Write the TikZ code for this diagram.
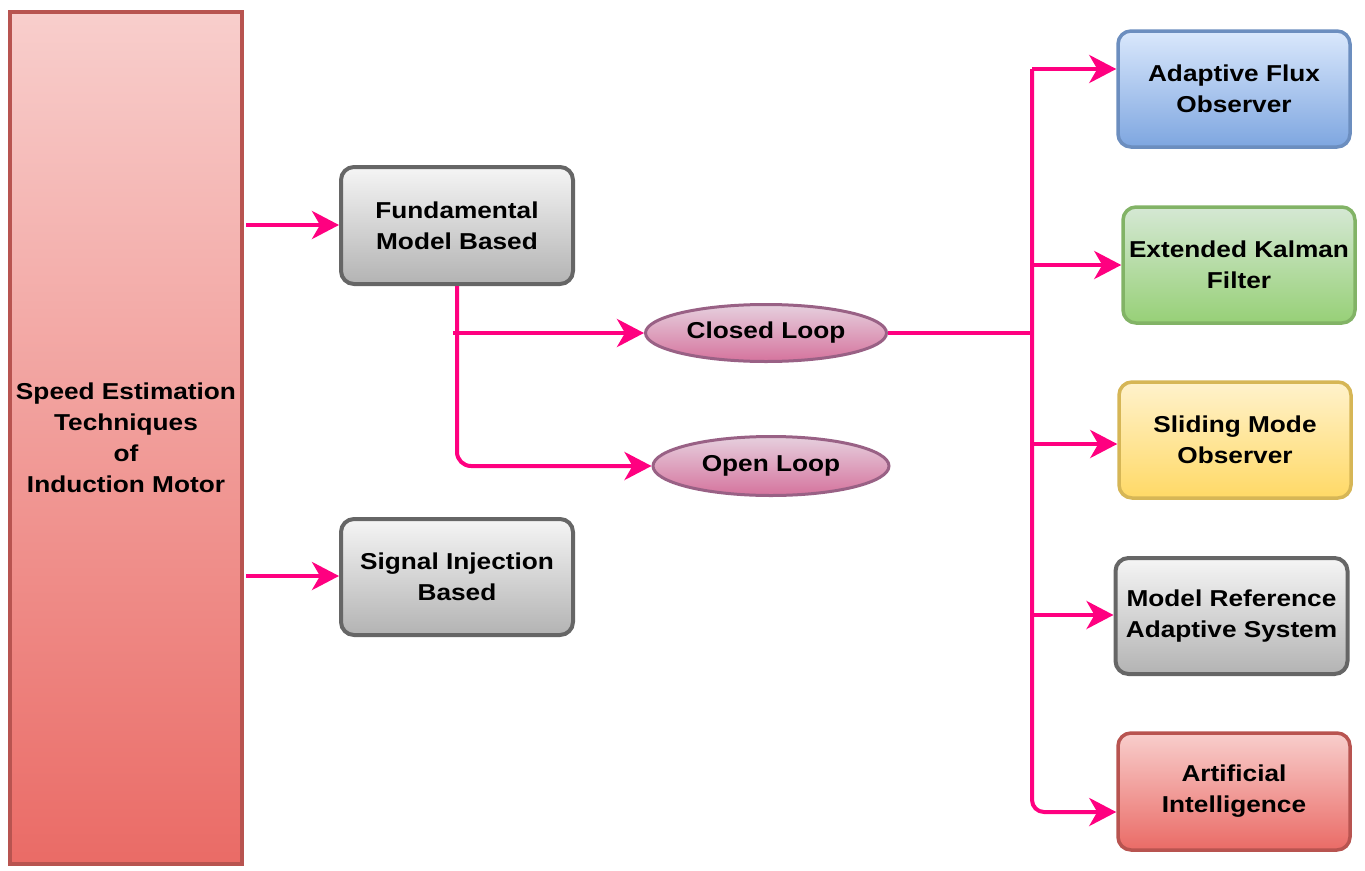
\documentclass[tikz,border=0pt]{standalone}
\usepackage{fontspec}
\setmainfont{Liberation Sans}[FakeStretch=1.14]
\usetikzlibrary{shapes.geometric,arrows.meta}
\definecolor{pinkline}{HTML}{FF0080}
\definecolor{redA}{HTML}{F8CECC}\definecolor{redB}{HTML}{EA6B66}\definecolor{redS}{HTML}{B85450}
\definecolor{grayA}{HTML}{F5F5F5}\definecolor{grayB}{HTML}{B3B3B3}\definecolor{grayS}{HTML}{666666}
\definecolor{blueA}{HTML}{DAE8FC}\definecolor{blueB}{HTML}{7EA6E0}\definecolor{blueS}{HTML}{6C8EBF}
\definecolor{greenA}{HTML}{D5E8D4}\definecolor{greenB}{HTML}{97D077}\definecolor{greenS}{HTML}{82B366}
\definecolor{yelA}{HTML}{FFF2CC}\definecolor{yelB}{HTML}{FFD966}\definecolor{yelS}{HTML}{D6B656}
\definecolor{pkA}{HTML}{E6D0DE}\definecolor{pkB}{HTML}{D5739D}\definecolor{pkS}{HTML}{996185}
\begin{document}
\begin{tikzpicture}[x=1pt,y=-1pt,
  every node/.style={font=\fontsize{23}{31}\selectfont\bfseries, align=center, inner sep=0pt},
  box/.style={rectangle, rounded corners=13pt, line width=4pt, minimum width=232pt, minimum height=116pt},
  graybox/.style={box, draw=grayS, top color=grayA, bottom color=grayB},
  bluebox/.style={box, line width=3.5pt, draw=blueS, top color=blueA, bottom color=blueB},
  greenbox/.style={box, line width=3.5pt, draw=greenS, top color=greenA, bottom color=greenB},
  yelbox/.style={box, line width=3.5pt, draw=yelS, top color=yelA, bottom color=yelB},
  redbox/.style={box, line width=3.5pt, draw=redS, top color=redA, bottom color=redB},
  loopnode/.style={ellipse, line width=3pt, draw=pkS, top color=pkA, bottom color=pkB},
  conn/.style={draw=pinkline, line width=4pt},
  arr/.style={conn, -{Stealth[length=27pt,width=28pt,inset=8pt]}}
]
\useasboundingbox (0,0) rectangle (1365,870);

% main block
\node[rectangle, line width=4pt, draw=redS, top color=redA, bottom color=redB,
      minimum width=232pt, minimum height=852pt] (sem) at (126,438)
  {Speed Estimation\\Techniques\\of\\Induction Motor};

% second level
\node[graybox, minimum height=117pt] (fmb) at (457,225.5) {Fundamental\\Model Based};
\node[graybox] (sib) at (457,577) {Signal Injection\\Based};

% loops
\node[loopnode, minimum width=241pt, minimum height=57pt] (cl) at (766,333) {Closed Loop};
\node[loopnode, minimum width=236pt, minimum height=59pt] (ol) at (771,466) {Open Loop};

% right column
\node[bluebox]  (afo) at (1234,89)   {Adaptive Flux\\Observer};
\node[greenbox] (ekf) at (1239,265)  {Extended Kalman\\Filter};
\node[yelbox]   (smo) at (1235,440)  {Sliding Mode\\Observer};
\node[graybox]  (mras) at (1231.5,616) {Model Reference\\Adaptive System};
\node[redbox, minimum height=117pt] (ai) at (1234,791.5) {Artificial\\Intelligence};

% coordinates
\coordinate (b1) at (453,333);
\coordinate (tA) at (1032,69);
\coordinate (tB) at (1032,265);
\coordinate (tC) at (1032,444);
\coordinate (tD) at (1032,615);
\coordinate (tE) at (1032,812);
\coordinate (m1) at (246,225);
\coordinate (m2) at (246,576);

% connectors
\draw[arr] (m1) -- (m1 -| fmb.west);
\draw[arr] (m2) -- (m2 -| sib.west);
\draw[arr, rounded corners=14pt] (fmb.south) -- (fmb.south |- ol.west) -- (ol.west);
\draw[arr] (b1) -- (cl.west);
\draw[conn] (cl.east) -- (cl.east -| tA);
\draw[arr] (tA) -- (tA -| afo.west);
\draw[arr, rounded corners=12pt] (tA) -- (tE) -- (tE -| ai.west);
\draw[arr] (tB) -- (tB -| ekf.west);
\draw[arr] (tC) -- (tC -| smo.west);
\draw[arr] (tD) -- (tD -| mras.west);
\end{tikzpicture}
\end{document}
